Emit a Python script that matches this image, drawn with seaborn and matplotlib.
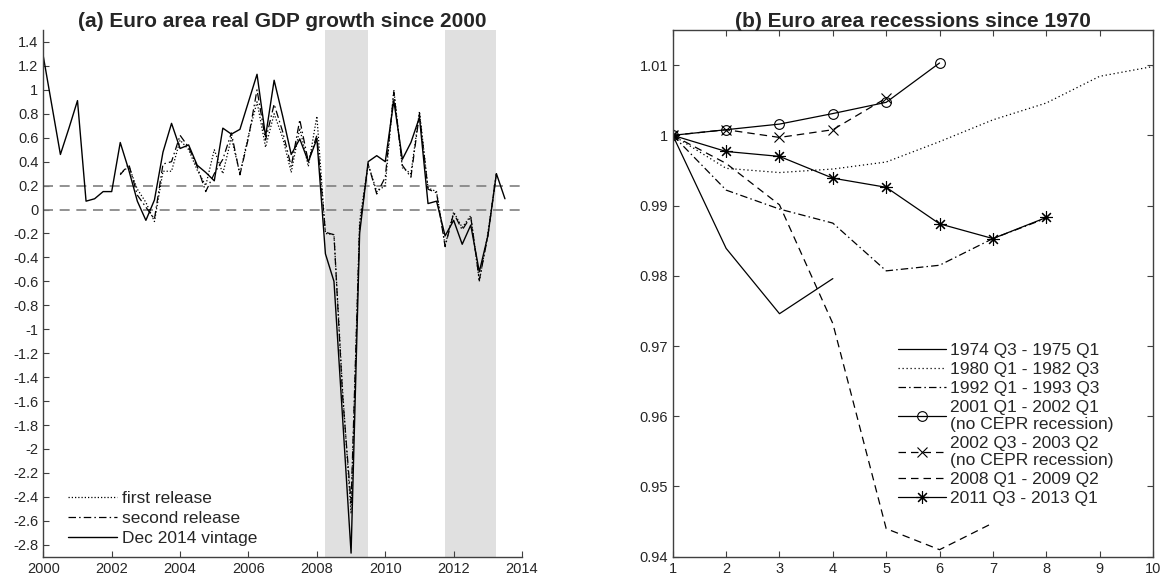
import numpy as np
import pandas as pd
import matplotlib
matplotlib.use('Agg')
import matplotlib.pyplot as plt
from matplotlib.ticker import FormatStrFormatter
import seaborn as sns

# ---------------------------------------------------------
# data (a): euro area real GDP growth, % q/q
# ---------------------------------------------------------
vintage_start = 2000.0
vintage = [1.28, 0.87, 0.46, 0.68,
           0.91, 0.07, 0.09, 0.15,
           0.15, 0.56, 0.33, 0.07,
           -0.09, 0.08, 0.48, 0.72,
           0.51, 0.54, 0.37, 0.31,
           0.24, 0.68, 0.63, 0.67,
           0.90, 1.13, 0.61, 1.08,
           0.78, 0.46, 0.59, 0.40,
           0.59, -0.37, -0.60, -1.73,
           -2.87, -0.20, 0.40, 0.45,
           0.40, 0.91, 0.42, 0.56,
           0.77, 0.05, 0.07, -0.22,
           -0.09, -0.29, -0.13, -0.52,
           -0.22, 0.30, 0.09]

release_start = 2002.25
first_release = [0.30, 0.36, 0.17,
                 0.06, -0.10, 0.32, 0.32,
                 0.58, 0.50, 0.33, 0.20,
                 0.50, 0.30, 0.60, 0.30,
                 0.62, 0.90, 0.52, 0.80,
                 0.60, 0.31, 0.68, 0.36,
                 0.78, -0.20, -0.21, -1.50,
                 -2.54, -0.10, 0.38, 0.15,
                 0.20, 1.00, 0.35, 0.30,
                 0.82, 0.18, 0.15, -0.30,
                 -0.02, -0.15, -0.05, -0.60,
                 -0.20, 0.30]
second_release = [0.29, 0.38, 0.12,
                  0.02, -0.08, 0.38, 0.40,
                  0.62, 0.52, 0.36, 0.15,
                  0.30, 0.42, 0.64, 0.29,
                  0.60, 1.00, 0.58, 0.88,
                  0.65, 0.36, 0.75, 0.40,
                  0.62, -0.19, -0.21, -1.55,
                  -2.45, -0.15, 0.38, 0.13,
                  0.27, 0.98, 0.37, 0.27,
                  0.80, 0.17, 0.14, -0.31,
                  -0.03, -0.17, -0.06, -0.59,
                  -0.22, 0.30]

recession_bands = [(2008.25, 2009.5), (2011.75, 2013.25)]
ref_levels = [0.0, 0.2]

# ---------------------------------------------------------
# data (b): GDP level relative to recession start
# ---------------------------------------------------------
rec_labels = ['1974 Q3 - 1975 Q1',
              '1980 Q1 - 1982 Q3',
              '1992 Q1 - 1993 Q3',
              '2001 Q1 - 2002 Q1\n(no CEPR recession)',
              '2002 Q3 - 2003 Q2\n(no CEPR recession)',
              '2008 Q1 - 2009 Q2',
              '2011 Q3 - 2013 Q1']
rec_1974 = [1.0, 0.9839, 0.9746, 0.9796]
rec_1980 = [1.0, 0.9953, 0.9947, 0.9952, 0.9962, 0.9991, 1.0022, 1.0046, 1.0084, 1.0098]
rec_1992 = [1.0, 0.9922, 0.9895, 0.9875, 0.9807, 0.9815, 0.9853, 0.9882]
rec_2001 = [1.0, 1.0008, 1.0016, 1.0031, 1.0047, 1.0103]
rec_2002 = [1.0, 1.0008, 0.9997, 1.0008, 1.0053]
rec_2008 = [1.0, 0.9960, 0.9901, 0.9732, 0.9440, 0.9410, 0.9448]
rec_2011 = [1.0, 0.9977, 0.9970, 0.9939, 0.9926, 0.9874, 0.9853, 0.9883]

# ---------------------------------------------------------
# style
# ---------------------------------------------------------
sns.set_style('white')
plt.rcParams['font.family'] = ['Liberation Sans', 'DejaVu Sans']
plt.rcParams['axes.unicode_minus'] = False
axis_col = '#404040'

fig = plt.figure(figsize=(11.64, 5.81), dpi=100)
ax1 = fig.add_axes([0.0372, 0.0418, 0.4113, 0.9066])
ax2 = fig.add_axes([0.578, 0.0418, 0.4125, 0.9066])

# ---------------------------------------------------------
# panel (a)
# ---------------------------------------------------------
def quarterly(start, values):
    return pd.DataFrame({'date': start + 0.25 * np.arange(len(values)), 'value': values})

for lo, hi in recession_bands:
    ax1.axvspan(lo, hi, color='#e0e0e0', lw=0, zorder=0)
for lvl in ref_levels:
    ax1.axhline(lvl, color='#7f7f7f', lw=1.2, dashes=(6, 4), zorder=1)

sns.lineplot(data=quarterly(release_start, first_release), x='date', y='value', ax=ax1,
             color='black', lw=0.9, linestyle=(0, (1, 1.6)), label='first release')
sns.lineplot(data=quarterly(release_start, second_release), x='date', y='value', ax=ax1,
             color='black', lw=0.9, linestyle=(0, (6, 2.5, 1.2, 2.5)), label='second release')
sns.lineplot(data=quarterly(vintage_start, vintage), x='date', y='value', ax=ax1,
             color='black', lw=1.0, label='Dec 2014 vintage')

ax1.set_xlim(2000, 2014)
ax1.set_ylim(-2.9, 1.5)
ax1.set_xticks(np.arange(2000, 2015, 2))
ax1.set_yticks(np.round(np.arange(-2.8, 1.41, 0.2), 1))
ax1.yaxis.set_major_formatter(FormatStrFormatter('%g'))
ax1.set_xlabel('')
ax1.set_ylabel('')
for s in ['top', 'right']:
    ax1.spines[s].set_visible(False)
ax1.set_title('(a) Euro area real GDP growth since 2000', fontsize=15, fontweight='bold', pad=2)
ax1.legend(loc='lower left', bbox_to_anchor=(0.052, 0.02), frameon=False, fontsize=12.5,
           handlelength=2.8, handletextpad=0.3, labelspacing=0.28, borderpad=0, borderaxespad=0)

# ---------------------------------------------------------
# panel (b)
# ---------------------------------------------------------
def indexed(values):
    return pd.DataFrame({'q': np.arange(1, len(values) + 1), 'value': values})

asterisk = (8, 2, 0)
series_b = [
    (rec_1974, dict(linestyle='-')),
    (rec_1980, dict(linestyle=(0, (1, 2.2)))),
    (rec_1992, dict(linestyle=(0, (6, 2.5, 1.2, 2.5)))),
    (rec_2001, dict(linestyle='-', marker='o', ms=7, mfc='none')),
    (rec_2002, dict(linestyle=(0, (6, 4)), marker='x', ms=7)),
    (rec_2008, dict(linestyle=(0, (6, 4)))),
    (rec_2011, dict(linestyle='-', marker=asterisk, ms=9)),
]
for (vals, kw), lab in zip(series_b, rec_labels):
    sns.lineplot(data=indexed(vals), x='q', y='value', ax=ax2, color='black', lw=0.9,
                 mec='black', mew=0.8, label=lab, **kw)

ax2.set_xlim(1, 10)
ax2.set_ylim(0.94, 1.015)
ax2.set_xticks(np.arange(1, 11))
ax2.set_yticks([0.94, 0.95, 0.96, 0.97, 0.98, 0.99, 1.0, 1.01])
ax2.yaxis.set_major_formatter(FormatStrFormatter('%g'))
ax2.set_xlabel('')
ax2.set_ylabel('')
ax2.set_title('(b) Euro area recessions since 1970', fontsize=15, fontweight='bold', pad=2)
ax2.legend(loc='upper left', bbox_to_anchor=(0.468, 0.406), frameon=False, fontsize=12.5,
           handlelength=2.8, handletextpad=0.2, labelspacing=0.22, borderpad=0, borderaxespad=0,
           numpoints=1)

for ax in (ax1, ax2):
    for s in ax.spines.values():
        s.set_color(axis_col)
        s.set_linewidth(1.0)
    ax.tick_params(direction='in', length=4, width=0.8, color=axis_col,
                   labelsize=10.5, labelcolor='#262626')
ax2.tick_params(top=True, right=True, bottom=True, left=True)
ax1.tick_params(bottom=True, left=True)

fig.savefig('out.png', dpi=100)
